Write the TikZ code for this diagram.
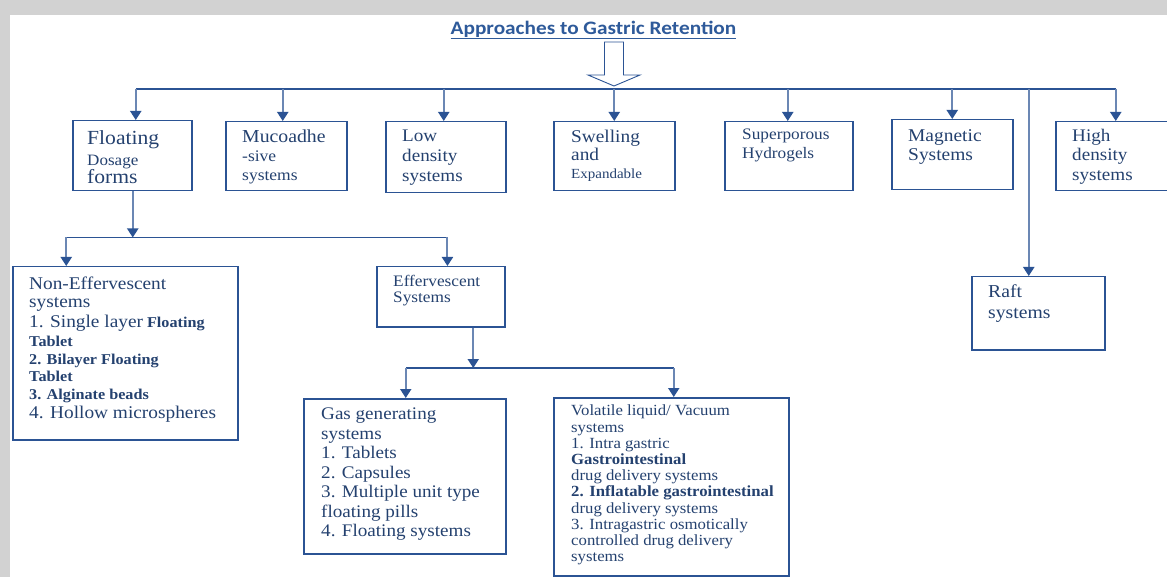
\documentclass[tikz,border=0pt]{standalone}
\usepackage{fontspec}
\setmainfont[FakeStretch=1.08]{Liberation Serif}
\newfontfamily\titlefont[FakeStretch=1.12]{Carlito}
\usetikzlibrary{arrows.meta}
\definecolor{lineblue}{HTML}{2B5394}
\definecolor{textblue}{HTML}{24416F}
\definecolor{titleblue}{HTML}{2E5A9A}
\tikzstyle{box} = [draw=lineblue, line width=1.5pt, anchor=north west, inner sep=0pt]
\tikzstyle{txt} = [anchor=north west, align=left, inner sep=0pt, text=textblue]
\tikzstyle{drop} = [draw=lineblue!70, line width=2pt, -{Triangle[width=11pt,length=9pt,color=lineblue]}]
\tikzstyle{bus} = [draw=lineblue, line width=1.2pt]
\newcommand{\fsz}[2]{\fontsize{#1}{#2}\selectfont}

\begin{document}
\begin{tikzpicture}[x=1pt,y=-1pt]
\useasboundingbox (0,0) rectangle (1167,577);
\fill[gray!35] (0,0) rectangle (1167,577);
\fill[white] (10,15) rectangle (1167,577);

\node[txt, anchor=base, text=titleblue, font=\titlefont\bfseries\fsz{19}{22}] (title) at (593.5,35) {Approaches to Gastric Retention};
\draw[titleblue, line width=0.9pt] ([yshift=-3pt]title.base west) -- ([yshift=-3pt]title.base east);
\draw[lineblue, line width=0.9pt, fill=white] (604.5,42) -- (623.5,42) -- (623.5,75) -- (640,75) -- (614,86) -- (588,75) -- (604.5,75) -- cycle;

% top row
\node[box, minimum width=119, minimum height=70] (floating) at (72,120) {};
\node[box, minimum width=121, minimum height=69] (muco) at (225,121) {};
\node[box, minimum width=120, minimum height=71] (lowd) at (385,121) {};
\node[box, minimum width=121, minimum height=69] (swell) at (553,121) {};
\node[box, minimum width=128, minimum height=69] (super) at (724,121) {};
\node[box, minimum width=121, minimum height=70] (magnet) at (891,119) {};
\node[box, minimum width=118, minimum height=69] (high) at (1055,121) {};
\node[box, minimum width=133, minimum height=73] (raft) at (971,276) {};

\node[txt, font=\fsz{20}{19.5}] (floatingT) at ([shift={(15,10)}]floating.north west) {Floating\\[1.5pt]{\fsz{15.8}{17}Dosage}\\[-1.5pt]forms};
\node[txt, font=\fsz{16.2}{19}] (mucoT) at ([shift={(17,9)}]muco.north west) {{\fsz{18.3}{19}Mucoadhe}\\-sive\\systems};
\node[txt, font=\fsz{17.7}{20}] (lowdT) at ([shift={(17,9)}]lowd.north west) {Low\\density\\systems};
\node[txt, font=\fsz{17.9}{18}] (swellT) at ([shift={(18,9)}]swell.north west) {Swelling\\and\\{\fsz{13.9}{15}Expandable}};
\node[txt, font=\fsz{16}{19}] (superT) at ([shift={(18,8)}]super.north west) {Superporous\\Hydrogels};
\node[txt, font=\fsz{18}{19}] (magnetT) at ([shift={(17,10)}]magnet.north west) {Magnetic\\Systems};
\node[txt, font=\fsz{17.7}{19.5}] (highT) at ([shift={(17,8)}]high.north west) {High\\density\\systems};
\node[txt, font=\fsz{18.2}{21}] (raftT) at ([shift={(17,8)}]raft.north west) {Raft\\systems};

% floating dosage forms
\node[box, minimum width=225, minimum height=173] (noneff) at (12,266) {};
\node[box, minimum width=128, minimum height=60] (eff) at (376,266) {};
\node[box, minimum width=202, minimum height=155] (gas) at (303,398) {};
\node[box, minimum width=235, minimum height=178] (vol) at (553,397) {};

\node[txt, font=\fsz{15}{17.5}] (noneffT) at ([shift={(17,11)}]noneff.north west) {{\fsz{17.9}{19}Non-Effervescent}\\[0.5pt]{\fsz{17.9}{19}systems}\\[2.5pt]{\fsz{17.9}{19}1. Single layer} \textbf{Floating}\\[1.5pt]\textbf{Tablet}\\\textbf{2. Bilayer Floating}\\\textbf{Tablet}\\\textbf{3. Alginate beads}\\[1.5pt]{\fsz{17.9}{19}4. Hollow microspheres}};
\node[txt, font=\fsz{16}{16}] (effT) at ([shift={(17,9)}]eff.north west) {Effervescent\\Systems};
\node[txt, font=\fsz{17.7}{19.5}] (gasT) at ([shift={(18,10)}]gas.north west) {Gas generating\\systems\\1. Tablets\\2. Capsules\\3. Multiple unit type\\floating pills\\4. Floating systems};
\node[txt, font=\fsz{15.5}{16.2}] (volT) at ([shift={(18,8)}]vol.north west) {Volatile liquid/ Vacuum\\systems\\1. Intra gastric\\\textbf{Gastrointestinal}\\drug delivery systems\\\textbf{2. Inflatable gastrointestinal}\\drug delivery systems\\3. Intragastric osmotically\\controlled drug delivery\\systems};

\coordinate (bus) at (0,89);
\coordinate (bus2) at (0,237.5);
\coordinate (bus3) at (0,368);

\draw[bus] ([xshift=3.5]floating.north |- bus) -- ([xshift=1]high.north |- bus);
\foreach \b/\s in {floating/3.5, muco/-3.5, lowd/-2, swell/0, super/-1, magnet/0, high/1, raft/-9.5}
{
	\draw[drop] ([xshift=\s]\b.north |- bus) -- ([xshift=\s]\b.north);
}

\draw[drop] ([xshift=0.5]floating.south) -- ([xshift=0.5]floating.south |- bus2);
\draw[bus] ([xshift=-59]noneff.north |- bus2) -- ([xshift=6.7]eff.north |- bus2);
\foreach \b/\s in {noneff/-59, eff/6.7}
{
	\draw[drop] ([xshift=\s]\b.north |- bus2) -- ([xshift=\s]\b.north);
}

\draw[drop] ([xshift=32.5]eff.south) -- ([xshift=32.5]eff.south |- bus3);
\draw[bus] ([xshift=1]gas.north |- bus3) -- ([xshift=2.5]vol.north |- bus3);
\foreach \b/\s in {gas/1, vol/2.5}
{
	\draw[drop] ([xshift=\s]\b.north |- bus3) -- ([xshift=\s]\b.north);
}
\end{tikzpicture}
\end{document}
